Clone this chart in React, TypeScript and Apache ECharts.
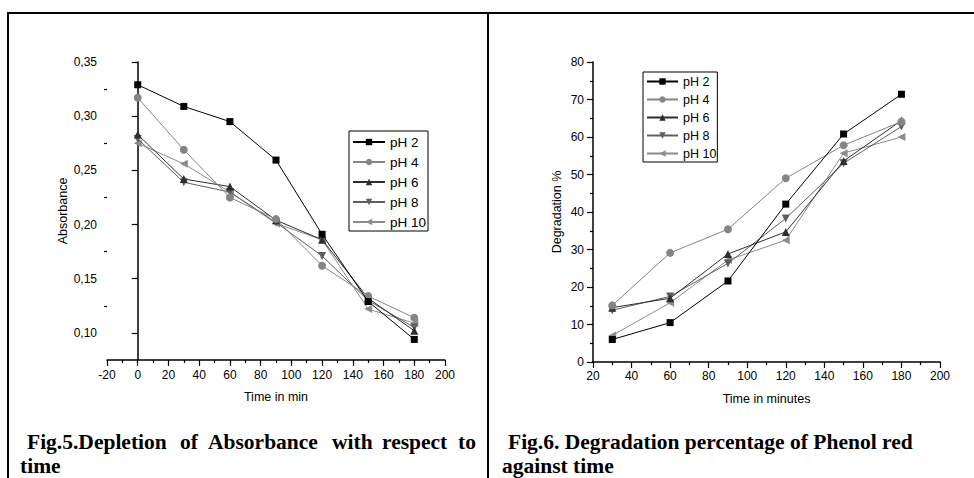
import React, { useEffect, useRef } from "react";
import * as echarts from "echarts";

const seriesNames = ["pH 2", "pH 4", "pH 6", "pH 8", "pH 10"];
const colors = ["#000000", "#858585", "#2e2e2e", "#5e5e5e", "#8c8c8c"];
const symbols = [
  "rect",
  "circle",
  "triangle",
  "path://M0,0L10,0L5,9Z",
  "path://M0,5L9,0L9,10Z",
];
const symbolSizes = [7, 8, 8, 8, 8];

// Fig.5 Absorbance vs time
const timeAbs = [0, 30, 60, 90, 120, 150, 180];
const absPH2 = [0.329, 0.309, 0.295, 0.2595, 0.191, 0.129, 0.094];
const absPH4 = [0.317, 0.269, 0.225, 0.205, 0.162, 0.134, 0.114];
const absPH6 = [0.283, 0.242, 0.235, 0.204, 0.186, 0.132, 0.102];
const absPH8 = [0.279, 0.239, 0.23, 0.202, 0.171, 0.13, 0.105];
const absPH10 = [0.275, 0.256, 0.23, 0.201, 0.186, 0.122, 0.109];
const absSeries = [absPH2, absPH4, absPH6, absPH8, absPH10];
const absMajorTicks = [0.1, 0.15, 0.2, 0.25, 0.3, 0.35];
const absMinorTicks = [0.125, 0.175, 0.225, 0.275, 0.325];

// Fig.6 Degradation % vs time
const timeDeg = [30, 60, 90, 120, 150, 180];
const degPH2 = [6.0, 10.5, 21.6, 42.1, 60.8, 71.4];
const degPH4 = [15.1, 29.1, 35.4, 49.0, 57.8, 64.1];
const degPH6 = [14.5, 17.0, 28.8, 34.7, 53.6, 64.4];
const degPH8 = [13.8, 17.5, 26.3, 38.3, 53.0, 62.8];
const degPH10 = [7.1, 15.8, 27.2, 32.5, 55.7, 60.0];
const degSeries = [degPH2, degPH4, degPH6, degPH8, degPH10];

const caption1Words = ["Fig.5.Depletion", "of", "Absorbance", "with", "respect", "to"];
const caption1X = [27, 180, 208, 332, 382, 458];
const caption1Line2 = "time";
const caption2Line1 = "Fig.6. Degradation percentage of Phenol red";
const caption2Line2 = "against time";

const SANS = "'Liberation Sans', Arial, sans-serif";
const SERIF = "'Liberation Serif', 'Times New Roman', serif";

export default function App() {
  const ref = useRef<HTMLDivElement>(null);
  useEffect(() => {
    if (!ref.current) return;
    const chart = echarts.init(ref.current, null, { renderer: "svg" });

    const axisLine = { show: true, lineStyle: { color: "#000", width: 1.5 } };
    const labelStyle = { color: "#000", fontSize: 12, fontFamily: SANS };
    const nameStyle = { color: "#000", fontSize: 12.5, fontFamily: SANS };
    const capFont = `bold 21.5px ${SERIF}`;

    const makeSeries = (xs: number[], ys: number[][], xi: number, yi: number) =>
      ys.map((vals, i) => ({
        name: seriesNames[i],
        type: "line",
        xAxisIndex: xi,
        yAxisIndex: yi,
        data: xs.map((x, j) => [x, vals[j]]),
        symbol: symbols[i],
        symbolSize: symbolSizes[i],
        showAllSymbol: true,
        lineStyle: { color: colors[i], width: 1 },
        itemStyle: { color: colors[i] },
        z: 10 - i,
      }));

    const option: any = {
      animation: false,
      backgroundColor: "#fff",
      grid: [
        { left: 107, top: 62, width: 338, height: 298 },
        { left: 593, top: 62, width: 347, height: 300 },
      ],
      xAxis: [
        {
          type: "value",
          gridIndex: 0,
          min: -20,
          max: 200,
          interval: 20,
          axisLine,
          axisTick: { show: true, length: 6, lineStyle: { color: "#000", width: 1.2 } },
          minorTick: { show: true, splitNumber: 2, length: 3, lineStyle: { color: "#000", width: 1.2 } },
          splitLine: { show: false },
          axisLabel: { ...labelStyle, margin: 9 },
          name: "Time in min",
          nameLocation: "middle",
          nameGap: 30,
          nameTextStyle: nameStyle,
        },
        {
          type: "value",
          gridIndex: 1,
          min: 20,
          max: 200,
          interval: 20,
          axisLine,
          axisTick: { show: true, length: 6, lineStyle: { color: "#000", width: 1.2 } },
          minorTick: { show: true, splitNumber: 2, length: 3, lineStyle: { color: "#000", width: 1.2 } },
          splitLine: { show: false },
          axisLabel: { ...labelStyle, margin: 8 },
          name: "Time in minutes",
          nameLocation: "middle",
          nameGap: 30,
          nameTextStyle: nameStyle,
        },
      ],
      yAxis: [
        {
          type: "value",
          gridIndex: 0,
          min: 0.075,
          max: 0.35,
          axisLine,
          axisTick: { show: true, length: 6, customValues: absMajorTicks, lineStyle: { color: "#000", width: 1.2 } },
          splitLine: { show: false },
          axisLabel: {
            ...labelStyle,
            margin: 10,
            customValues: absMajorTicks,
            formatter: (v: number) => v.toFixed(2).replace(".", ","),
          },
          name: "Absorbance",
          nameLocation: "middle",
          nameGap: 33,
          nameTextStyle: nameStyle,
        },
        {
          type: "value",
          gridIndex: 0,
          position: "left",
          offset: 0,
          min: 0.075,
          max: 0.35,
          axisLine: { show: false },
          axisTick: { show: true, length: 3, customValues: absMinorTicks, lineStyle: { color: "#000", width: 1.2 } },
          axisLabel: { show: false },
          splitLine: { show: false },
        },
        {
          type: "value",
          gridIndex: 1,
          min: 0,
          max: 80,
          interval: 10,
          axisLine,
          axisTick: { show: true, length: 6, lineStyle: { color: "#000", width: 1.2 } },
          minorTick: { show: true, splitNumber: 2, length: 3, lineStyle: { color: "#000", width: 1.2 } },
          splitLine: { show: false },
          axisLabel: { ...labelStyle, margin: 9 },
          name: "Degradation %",
          nameLocation: "middle",
          nameGap: 30,
          nameTextStyle: nameStyle,
        },
      ],
      legend: [
        {
          orient: "vertical",
          left: 349,
          top: 131,
          data: seriesNames,
          selectedMode: false,
          padding: [4, 2, 2, 3],
          itemGap: 6,
          itemWidth: 32,
          itemHeight: 8,
          borderColor: "#000",
          borderWidth: 1,
          textStyle: { color: "#000", fontSize: 13.5, fontFamily: SANS, padding: [0, 0, 0, 0] },
        },
        {
          orient: "vertical",
          left: 643,
          top: 72,
          data: seriesNames,
          selectedMode: false,
          padding: [3, 1, 2, 3],
          itemGap: 5,
          itemWidth: 31,
          itemHeight: 8,
          borderColor: "#000",
          borderWidth: 1,
          textStyle: { color: "#000", fontSize: 12.5, fontFamily: SANS },
        },
      ],
      series: [
        ...makeSeries(timeAbs, absSeries, 0, 0),
        ...makeSeries(timeDeg, degSeries, 1, 2),
      ],
      graphic: [
        { type: "line", shape: { x1: 7, y1: 13, x2: 974, y2: 13 }, style: { stroke: "#000", lineWidth: 2 } },
        { type: "line", shape: { x1: 8, y1: 12, x2: 8, y2: 478 }, style: { stroke: "#000", lineWidth: 2 } },
        { type: "line", shape: { x1: 488, y1: 12, x2: 488, y2: 478 }, style: { stroke: "#000", lineWidth: 2 } },
        ...caption1Words.map((w, i) => ({
          type: "text",
          x: caption1X[i],
          y: 442,
          style: { text: w, fill: "#000", font: capFont, verticalAlign: "middle", align: "left" },
        })),
        {
          type: "text",
          x: 20,
          y: 466,
          style: { text: caption1Line2, fill: "#000", font: capFont, verticalAlign: "middle", align: "left" },
        },
        {
          type: "text",
          x: 508,
          y: 442,
          style: { text: caption2Line1, fill: "#000", font: capFont, verticalAlign: "middle", align: "left" },
        },
        {
          type: "text",
          x: 502,
          y: 466,
          style: { text: caption2Line2, fill: "#000", font: capFont, verticalAlign: "middle", align: "left" },
        },
      ],
    };
    chart.setOption(option);
    return () => chart.dispose();
  }, []);
  return (
    <div
      ref={ref}
      style={{ position: "absolute", left: 0, top: 0, width: 974, height: 478, background: "#fff" }}
    />
  );
}
